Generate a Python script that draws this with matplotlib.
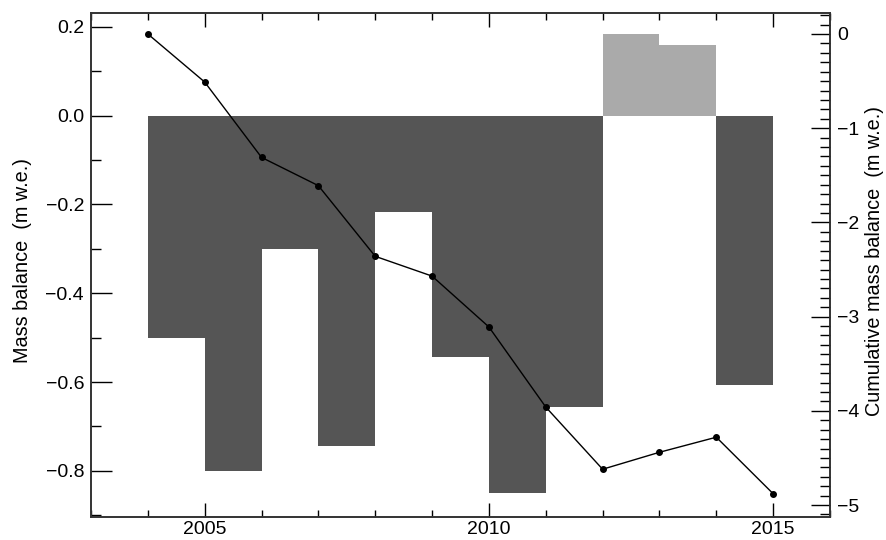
import numpy as np
import matplotlib
matplotlib.use("Agg")
from matplotlib import pyplot as plt
from matplotlib.ticker import MultipleLocator, FuncFormatter

# annual mass balance (m w.e.), bar spans year -> year+1
years = [2004, 2005, 2006, 2007, 2008, 2009, 2010, 2011, 2012, 2013, 2014]
balance = [-0.50, -0.80, -0.30, -0.745, -0.218, -0.543, -0.851, -0.656, 0.183, 0.160, -0.607]

# cumulative mass balance (m w.e.)
cum_years = [2004, 2005, 2006, 2007, 2008, 2009, 2010, 2011, 2012, 2013, 2014, 2015]
cum_balance = [0.0, -0.51, -1.31, -1.61, -2.36, -2.57, -3.11, -3.96, -4.62, -4.44, -4.28, -4.88]

plt.rcParams['font.family'] = ['Liberation Sans', 'DejaVu Sans']

fig = plt.figure(figsize=(8.86, 5.4), dpi=100)
ax = fig.add_axes([0.1027, 0.0426, 0.8341, 0.9339])

colors = ['#aaaaaa' if b > 0 else '#555555' for b in balance]
ax.bar(years, balance, width=1.0, align='edge', color=colors, linewidth=0)

def fmt(v, pos):
    s = '%.1f' % abs(v)
    return ('\u2212' + s) if v < -1e-9 else s

ax.set_xlim(2003, 2016)
ax.set_ylim(-0.904, 0.232)
ax.xaxis.set_major_locator(MultipleLocator(5))
ax.xaxis.set_minor_locator(MultipleLocator(1))
ax.yaxis.set_major_locator(MultipleLocator(0.2))
ax.yaxis.set_minor_locator(MultipleLocator(0.1))
ax.yaxis.set_major_formatter(FuncFormatter(fmt))
ax.tick_params(axis='x', which='major', direction='in', length=10, width=1, top=True,
               labelsize=14, pad=3)
ax.tick_params(axis='x', which='minor', direction='in', length=5, width=1, top=True)
ax.tick_params(axis='y', which='major', direction='in', length=15, width=1, right=False,
               labelsize=14, pad=5)
ax.tick_params(axis='y', which='minor', direction='in', length=7, width=1, right=False)
ax.set_ylabel('Mass balance  (m w.e.)', fontsize=14.3)
ax.yaxis.set_label_coords(-0.08, 0.508)

ax2 = ax.twinx()
ax2.plot(cum_years, cum_balance, color='black', linewidth=1, marker='o', markersize=4)
ax2.set_ylim(-5.127, 0.226)
ax2.yaxis.set_major_locator(MultipleLocator(1))
ax2.yaxis.set_minor_locator(MultipleLocator(0.1))
ax2.tick_params(axis='y', which='major', direction='in', length=14, width=1,
                labelsize=14, pad=5)
ax2.tick_params(axis='y', which='minor', direction='in', length=7, width=1)
ax2.set_ylabel('Cumulative mass balance  (m w.e.)', fontsize=14.3)
ax2.yaxis.set_label_coords(1.048, 0.508)

for a in (ax, ax2):
    for s in a.spines.values():
        s.set_linewidth(1.2)
        s.set_color('#333333')

plt.savefig("out.png", dpi=100)
plt.close("all")
